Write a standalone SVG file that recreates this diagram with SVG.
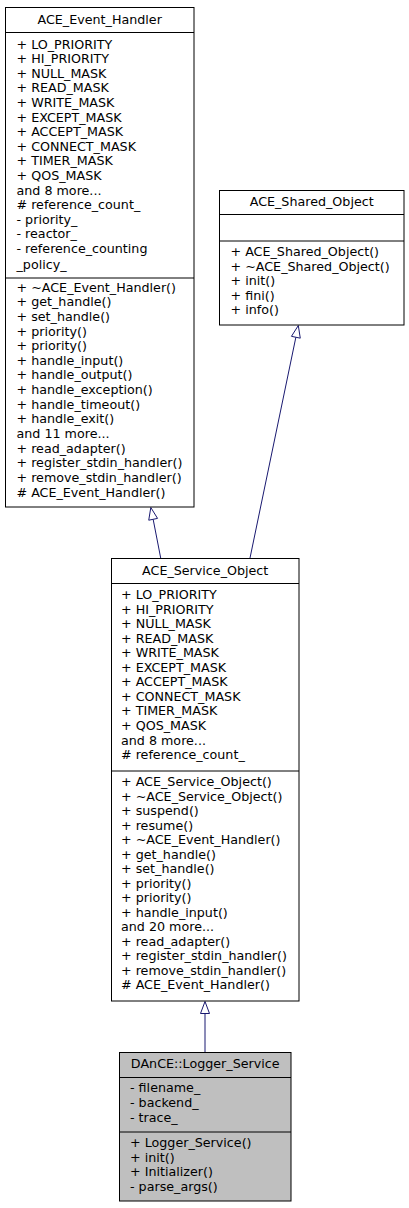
<svg xmlns="http://www.w3.org/2000/svg" width="409" height="1208" viewBox="0 0 409 1208">
<style>
.box{fill:#ffffff;stroke:#000000;stroke-width:1}
.sel{fill:#bfbfbf;stroke:#000000;stroke-width:1}
.sep{stroke:#000000;stroke-width:1}
text{font-family:"DejaVu Sans",sans-serif;font-size:12.7px;fill:#000000}
.t{text-anchor:middle}
.edge{fill:none;stroke:#191970;stroke-width:1}
.head{fill:#ffffff;stroke:#191970;stroke-width:1}
</style>
<rect width="409" height="1208" fill="#ffffff"/>
<g id="connectors">
<line class="edge" x1="160.7" y1="558" x2="153.15" y2="519.3"/>
<polygon class="head" points="150.8,507.5 157.56,518.4 148.74,520.2"/>
<line class="edge" x1="250" y1="558" x2="295.86" y2="337.25"/>
<polygon class="head" points="298.3,325.5 300.27,338.17 291.45,336.34"/>
<line class="edge" x1="205" y1="1052" x2="205" y2="1013.5"/>
<polygon class="head" points="205,1001.5 209.5,1013.5 200.5,1013.5"/>
</g>
<g id="ACE_Event_Handler">
<rect class="box" x="5.5" y="7.5" width="188.5" height="499.5"/>
<line class="sep" x1="5.5" y1="32.5" x2="194" y2="32.5"/>
<line class="sep" x1="5.5" y1="278" x2="194" y2="278"/>
<text class="t" x="99.7" y="24">ACE_Event_Handler</text>
<text x="16.5" y="48.5">+ LO_PRIORITY</text>
<text x="16.5" y="63.1">+ HI_PRIORITY</text>
<text x="16.5" y="77.7">+ NULL_MASK</text>
<text x="16.5" y="92.3">+ READ_MASK</text>
<text x="16.5" y="106.9">+ WRITE_MASK</text>
<text x="16.5" y="121.5">+ EXCEPT_MASK</text>
<text x="16.5" y="136.1">+ ACCEPT_MASK</text>
<text x="16.5" y="150.7">+ CONNECT_MASK</text>
<text x="16.5" y="165.3">+ TIMER_MASK</text>
<text x="16.5" y="179.9">+ QOS_MASK</text>
<text x="16.5" y="194.5">and 8 more...</text>
<text x="16.5" y="209.1"># reference_count_</text>
<text x="16.5" y="223.7">- priority_</text>
<text x="16.5" y="238.3">- reactor_</text>
<text x="16.5" y="252.9">- reference_counting</text>
<text x="16.5" y="268.5">_policy_</text>
<text x="16.5" y="291.5">+ ~ACE_Event_Handler()</text>
<text x="16.5" y="306.2">+ get_handle()</text>
<text x="16.5" y="320.8">+ set_handle()</text>
<text x="16.5" y="335.5">+ priority()</text>
<text x="16.5" y="350.1">+ priority()</text>
<text x="16.5" y="364.8">+ handle_input()</text>
<text x="16.5" y="379.4">+ handle_output()</text>
<text x="16.5" y="394.1">+ handle_exception()</text>
<text x="16.5" y="408.7">+ handle_timeout()</text>
<text x="16.5" y="423.4">+ handle_exit()</text>
<text x="16.5" y="438">and 11 more...</text>
<text x="16.5" y="452.7">+ read_adapter()</text>
<text x="16.5" y="467.3">+ register_stdin_handler()</text>
<text x="16.5" y="482">+ remove_stdin_handler()</text>
<text x="16.5" y="496.6"># ACE_Event_Handler()</text>
</g>
<g id="ACE_Shared_Object">
<rect class="box" x="219.5" y="190.5" width="184.5" height="134.5"/>
<line class="sep" x1="219.5" y1="214.5" x2="404" y2="214.5"/>
<line class="sep" x1="219.5" y1="241" x2="404" y2="241"/>
<text class="t" x="311.7" y="206">ACE_Shared_Object</text>
<text x="230.5" y="256">+ ACE_Shared_Object()</text>
<text x="230.5" y="270.6">+ ~ACE_Shared_Object()</text>
<text x="230.5" y="285.2">+ init()</text>
<text x="230.5" y="299.8">+ fini()</text>
<text x="230.5" y="314.4">+ info()</text>
</g>
<g id="ACE_Service_Object">
<rect class="box" x="111.5" y="558.5" width="187.5" height="442.5"/>
<line class="sep" x1="111.5" y1="583.5" x2="299" y2="583.5"/>
<line class="sep" x1="111.5" y1="771" x2="299" y2="771"/>
<text class="t" x="205.2" y="575">ACE_Service_Object</text>
<text x="121" y="599">+ LO_PRIORITY</text>
<text x="121" y="613.5">+ HI_PRIORITY</text>
<text x="121" y="628.1">+ NULL_MASK</text>
<text x="121" y="642.6">+ READ_MASK</text>
<text x="121" y="657.2">+ WRITE_MASK</text>
<text x="121" y="671.7">+ EXCEPT_MASK</text>
<text x="121" y="686.3">+ ACCEPT_MASK</text>
<text x="121" y="700.8">+ CONNECT_MASK</text>
<text x="121" y="715.4">+ TIMER_MASK</text>
<text x="121" y="729.9">+ QOS_MASK</text>
<text x="121" y="744.5">and 8 more...</text>
<text x="121" y="759"># reference_count_</text>
<text x="121" y="786">+ ACE_Service_Object()</text>
<text x="121" y="800.5">+ ~ACE_Service_Object()</text>
<text x="121" y="815">+ suspend()</text>
<text x="121" y="829.5">+ resume()</text>
<text x="121" y="844">+ ~ACE_Event_Handler()</text>
<text x="121" y="858.5">+ get_handle()</text>
<text x="121" y="873">+ set_handle()</text>
<text x="121" y="887.5">+ priority()</text>
<text x="121" y="902">+ priority()</text>
<text x="121" y="916.5">+ handle_input()</text>
<text x="121" y="931">and 20 more...</text>
<text x="121" y="945.5">+ read_adapter()</text>
<text x="121" y="960">+ register_stdin_handler()</text>
<text x="121" y="974.5">+ remove_stdin_handler()</text>
<text x="121" y="989"># ACE_Event_Handler()</text>
</g>
<g id="DAnCE_Logger_Service">
<rect class="sel" x="119.5" y="1052.5" width="171.5" height="148.5"/>
<line class="sep" x1="119.5" y1="1077.5" x2="291" y2="1077.5"/>
<line class="sep" x1="119.5" y1="1132" x2="291" y2="1132"/>
<text class="t" x="205.2" y="1068">DAnCE::Logger_Service</text>
<text x="130" y="1092">- filename_</text>
<text x="130" y="1107">- backend_</text>
<text x="130" y="1122">- trace_</text>
<text x="130" y="1147">+ Logger_Service()</text>
<text x="130" y="1162">+ init()</text>
<text x="130" y="1176">+ Initializer()</text>
<text x="130" y="1191">- parse_args()</text>
</g>
</svg>
